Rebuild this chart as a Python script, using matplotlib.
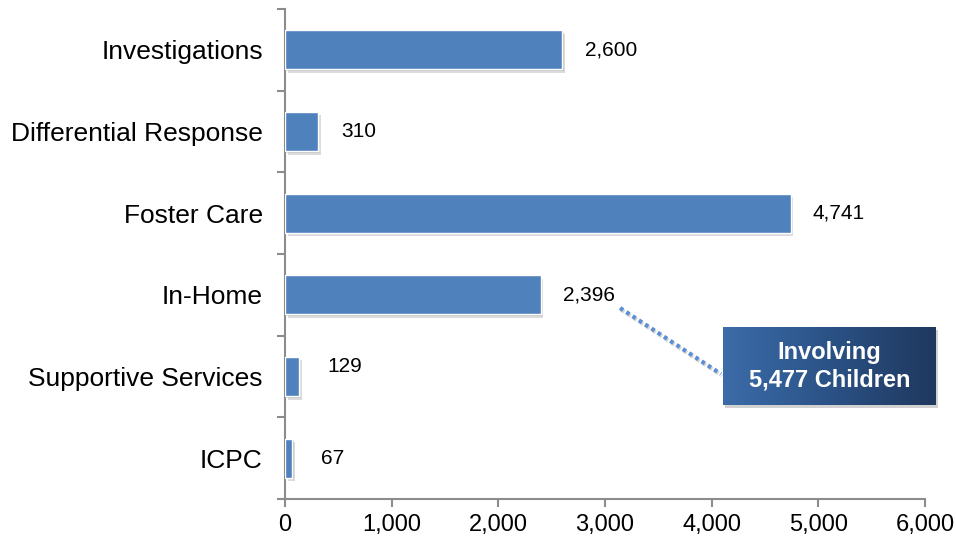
import matplotlib
matplotlib.use("Agg")
import matplotlib.pyplot as plt
import matplotlib.patheffects as pe
import matplotlib.ticker
import numpy as np
from matplotlib.lines import Line2D
from matplotlib.patches import Rectangle

plt.rcParams["font.family"] = ["Liberation Sans", "DejaVu Sans"]

CATEGORIES = [
    "Investigations",
    "Differential Response",
    "Foster Care",
    "In-Home",
    "Supportive Services",
    "ICPC",
]
CASES = [2600, 310, 4741, 2396, 129, 67]
X_TICKS = [0, 1000, 2000, 3000, 4000, 5000, 6000]
CALLOUT = "Involving\n5,477 Children"

# label nudges in pixels (dx, dy), small bars sit a bit further out
LABEL_NUDGE = [(23, 0), (23, 0), (22, 0), (22, 0), (29, 10), (29, 0)]

BAR_COLOR = "#4f81bd"
SPINE_COLOR = "#8c8c8c"

W, H = 956, 542
fig = plt.figure(figsize=(W / 100, H / 100), dpi=100)
ax = fig.add_axes([285 / W, 1 - 499 / H, 640 / W, 490 / H])

y = np.arange(len(CATEGORIES))
bars = ax.barh(
    y,
    CASES,
    height=0.48,
    color=BAR_COLOR,
    edgecolor="white",
    linewidth=1.0,
    zorder=3,
)
for bar in bars:
    bar.set_path_effects(
        [
            pe.SimplePatchShadow(offset=(2, -2.5), shadow_rgbFace="#888888", alpha=0.3),
            pe.SimplePatchShadow(offset=(1, -1.2), shadow_rgbFace="#888888", alpha=0.3),
            pe.Normal(),
        ]
    )

for i, (val, (dx, dy)) in enumerate(zip(CASES, LABEL_NUDGE)):
    ax.annotate(
        f"{val:,}",
        xy=(val, i),
        xytext=(dx * 0.72, dy * 0.72),
        textcoords="offset points",
        ha="left",
        va="center",
        fontsize=15,
        color="black",
    )

ax.set_xlim(0, 6000)
ax.set_ylim(len(CATEGORIES) - 0.5, -0.5)
ax.set_xticks(X_TICKS)
ax.xaxis.set_major_formatter(matplotlib.ticker.FuncFormatter(lambda v, p: f"{int(v):,}"))
ax.set_yticks(y)
ax.set_yticklabels(CATEGORIES, fontsize=19)
ax.yaxis.set_minor_locator(matplotlib.ticker.FixedLocator(np.arange(-0.5, len(CATEGORIES), 1.0)))
ax.tick_params(axis="y", which="major", length=0, pad=16)
ax.tick_params(axis="y", which="minor", length=6, width=1.5, color=SPINE_COLOR, direction="out")
ax.tick_params(axis="x", which="major", length=6, width=1.5, color=SPINE_COLOR,
               direction="out", labelsize=17, pad=5)
for side in ["top", "right"]:
    ax.spines[side].set_visible(False)
for side in ["left", "bottom"]:
    ax.spines[side].set_color(SPINE_COLOR)
    ax.spines[side].set_linewidth(1.5)

# dotted leader line from the In-Home label to the callout box
leader = Line2D(
    [620 / W, 721 / W],
    [1 - 308 / H, 1 - 374 / H],
    transform=fig.transFigure,
    color="#5b8fd3",
    linestyle=(0, (0.9, 0.9)),
    dash_capstyle="butt",
    linewidth=3,
    path_effects=[
        pe.SimpleLineShadow(offset=(0.8, -1.2), shadow_color="#777777", alpha=0.3),
        pe.Normal(),
    ],
)
fig.add_artist(leader)

# callout box with horizontal gradient
bx0, by0, bx1, by1 = 723, 327, 936, 405
fig.add_artist(
    Rectangle(
        ((bx0 + 2) / W, 1 - (by1 + 3) / H),
        (bx1 - bx0) / W,
        (by1 - by0) / H,
        transform=fig.transFigure,
        facecolor="#999999",
        alpha=0.45,
        edgecolor="none",
        zorder=4,
    )
)
cax = fig.add_axes([bx0 / W, 1 - by1 / H, (bx1 - bx0) / W, (by1 - by0) / H], zorder=5)
grad = np.linspace(0, 1, 256).reshape(1, -1)
cmap = matplotlib.colors.LinearSegmentedColormap.from_list("box", ["#3c6ca9", "#2b5286", "#1f385e"])
cax.imshow(grad, aspect="auto", cmap=cmap, extent=(0, 1, 0, 1))
cax.set_axis_off()
cax.text(
    0.5,
    0.5,
    CALLOUT,
    ha="center",
    va="center",
    color="white",
    fontsize=17,
    fontweight="bold",
    linespacing=1.25,
    transform=cax.transAxes,
)

fig.savefig("out.png", dpi=100)
